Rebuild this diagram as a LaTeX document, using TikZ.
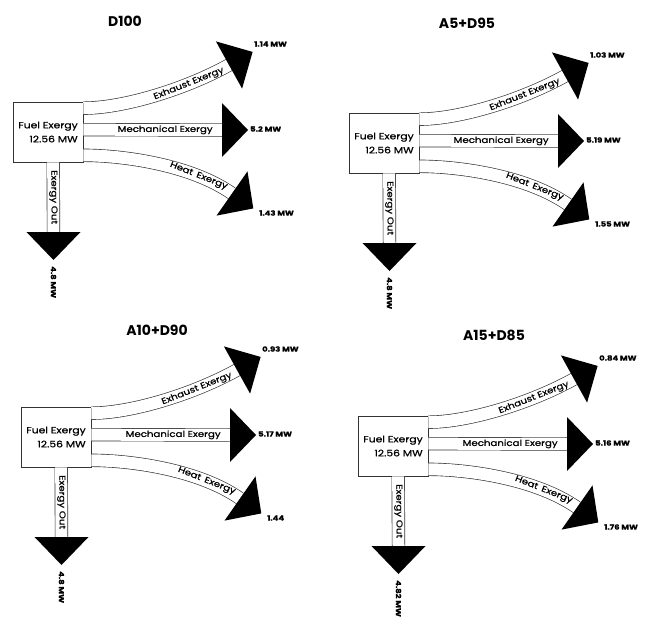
\documentclass[tikz,border=0pt]{standalone}
\usepackage{fontspec}
\setmainfont{Poppins}
\newfontfamily\bandfont[FakeStretch=1.2,FakeBold=0.8]{Poppins}
\usetikzlibrary{calc}

\tikzset{
  band/.style={draw=black!80, line width=0.65pt, double=white, double distance=12pt},
  boxnode/.style={draw=black!80, line width=0.65pt, fill=white, minimum width=70pt,
    minimum height=60pt, inner sep=0pt, align=right, font=\bandfont\fontsize{9}{10}\selectfont},
  bandlabel/.style={inner sep=0pt, font=\bandfont\fontsize{8.5}{9}\selectfont},
  vallabel/.style={inner sep=0pt, font=\bandfont\bfseries\fontsize{7}{8}\selectfont},
  titlelabel/.style={inner sep=0pt, font=\bfseries\fontsize{14}{16}\selectfont},
  headfill/.style={fill=black},
}

% #1 base coordinate, #2 direction angle, #3 height
\newcommand\headtri[3]{%
  \fill[headfill] ($(#1)+(#2+90:27)$) -- ($(#1)+(#2-90:27)$) -- ($(#1)+(#2:#3)$) -- cycle;}

% #1 prefix, #2 shift, #3 title, #4 title position, #5 exhaust, #6 mechanical, #7 heat, #8 out
\newcommand\energydiagram[8]{%
\begin{scope}[shift={(#2)}]
  \node[titlelabel] (#1title) at (#4) {#3};
  \node[boxnode] (#1box) at (48,-132) {Fuel Exergy\\[4pt]12.56 MW};
  \coordinate (#1es) at ($(#1box.north east)+(0,-6.5)$);
  \coordinate (#1ms) at ($(#1box.north east)+(0,-28)$);
  \coordinate (#1hs) at ($(#1box.south east)+(0,7)$);
  \coordinate (#1os) at ($(#1box.south west)+(40.5,0)$);
  \coordinate (#1ea) at (229,-65);
  \coordinate (#1ma) at (222,-130);
  \coordinate (#1ha) at (232,-193.5);
  \coordinate (#1oa) at (53.5,-232);
  \draw[band] (#1es) .. controls +(40,0) and +(209:50) .. node[bandlabel, sloped, pos=0.72] {Exhaust Exergy} (#1ea);
  \draw[band] (#1ms) -- node[bandlabel, pos=0.59] {Mechanical Exergy} (#1ma);
  \draw[band] (#1hs) .. controls +(40,0) and +(145:50) .. node[bandlabel, sloped, pos=0.76] {Heat\enspace Exergy} (#1ha);
  \draw[band] (#1os) -- node[bandlabel, sloped, pos=0.5] {Exergy Out} (#1oa);
  \headtri{#1ea}{29}{27}
  \headtri{#1ma}{0}{26}
  \headtri{#1ha}{-35}{26}
  \headtri{#1oa}{-90}{28}
  \node[vallabel, anchor=west] (#1ev) at (254,-44) {#5};
  \node[vallabel, anchor=west] (#1mv) at (250,-129) {#6};
  \node[vallabel, anchor=west] (#1hv) at (259,-213) {#7};
  \node[vallabel, anchor=west, rotate=-90] (#1ov) at (53.5,-266) {#8};
\end{scope}}

\begin{document}
\begin{tikzpicture}[x=1pt, y=1pt]
  \useasboundingbox (0,0) rectangle (655,-623);
  \energydiagram{a}{0,0}{D100}{125,-21}{1.14 MW}{5.2 MW}{1.43 MW}{4.8 MW}
  \energydiagram{b}{336,-11}{A5+D95}{131,-12}{1.03 MW}{5.19 MW}{1.55 MW}{4.8 MW}
  \energydiagram{c}{8,-305}{A10+D90}{149,-25}{0.93 MW}{5.17 MW}{1.44}{4.8 MW}
  \energydiagram{d}{345,-314}{A15+D85}{149,-21}{0.84 MW}{5.16 MW}{1.76 MW}{4.82 MW}
\end{tikzpicture}
\end{document}
